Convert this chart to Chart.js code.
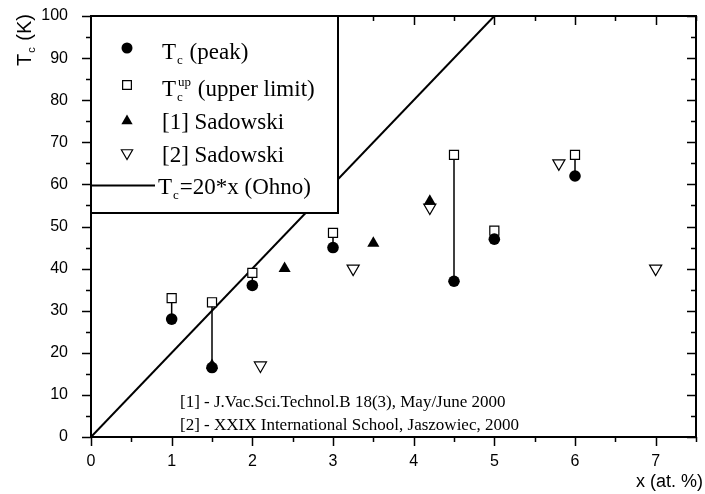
<!DOCTYPE html>
<html>
<head>
<meta charset="utf-8">
<script src="https://cdn.jsdelivr.net/npm/chart.js@4/dist/chart.umd.min.js"></script>
<style>
    html, body { margin: 0; padding: 0; background: #fff; }
</style>
</head>
<body>
<canvas id="tc-chart" width="705" height="494"></canvas>
<script>
// Tc (peak) and Tc upper limit, same x positions (at. %)
const peakX = [1, 1.5, 2, 3, 4.5, 5, 6];
const peakTc = [28, 16.5, 36, 45, 37, 47, 62];
const upTc = [33, 32, 39, 48.5, 67, 49, 67];

// [1] Sadowski
const sad1X = [1.5, 2.4, 3.5, 4.2];
const sad1Tc = [17, 40, 46, 56];

// [2] Sadowski
const sad2X = [2.1, 3.25, 4.2, 5.8, 7];
const sad2Tc = [17, 40, 54.5, 65, 40];

// Tc = 20*x (Ohno)
const ohnoX = [0, 5];
const ohnoTc = [0, 100];

// tick labels
const xLabels = [0, 1, 2, 3, 4, 5, 6, 7];
const yLabels = [0, 10, 20, 30, 40, 50, 60, 70, 80, 90, 100];

const SERIF = '"Liberation Serif", "Times New Roman", serif';
const SANS = '"Liberation Sans", Arial, sans-serif';

const toPoints = (xs, ys) => xs.map((x, i) => ({ x: x, y: ys[i] }));

// vertical bars joining peak and upper limit
const linkPoints = peakX.flatMap((x, i) => [
    { x: x, y: peakTc[i] },
    { x: x, y: upTc[i] },
    { x: x, y: null }
]);

// Tc with subscript (and optional superscript), then the rest of the text
function drawTc(ctx, x, y, size, family, sup, rest) {
    ctx.font = `${size}px ${family}`;
    ctx.fillText("T", x, y);
    let cx = x + ctx.measureText("T").width;
    const small = Math.round(size * 0.55);
    ctx.font = `${small}px ${family}`;
    ctx.fillText("c", cx + 1, y + size * 0.22);
    let adv = ctx.measureText("c").width + 1;
    if (sup) {
        ctx.fillText(sup, cx + 2, y - size * 0.42);
        adv = Math.max(adv, ctx.measureText(sup).width + 2);
    }
    ctx.font = `${size}px ${family}`;
    ctx.fillText(rest, cx + adv + 1, y);
}

const framePlugin = {
    id: "frame",
    afterDatasetsDraw(chart) {
        const { ctx, chartArea: a, scales: { x, y } } = chart;
        ctx.save();
        ctx.strokeStyle = "#000";
        ctx.lineWidth = 1.5;
        ctx.beginPath();
        x.ticks.forEach(t => {
            const px = Math.round(x.getPixelForValue(t.value)) + 0.5;
            const len = Number.isInteger(t.value) ? 9 : 5;
            ctx.moveTo(px, a.bottom);
            ctx.lineTo(px, a.bottom + len);
            ctx.moveTo(px, a.top);
            ctx.lineTo(px, a.top + len);
        });
        y.ticks.forEach(t => {
            const py = Math.round(y.getPixelForValue(t.value)) + 0.5;
            const len = t.value % 10 === 0 ? 9 : 5;
            ctx.moveTo(a.left - len, py);
            ctx.lineTo(a.left, py);
            ctx.moveTo(a.right - len, py);
            ctx.lineTo(a.right, py);
        });
        ctx.stroke();
        ctx.lineWidth = 2;
        ctx.strokeRect(a.left, a.top, a.right - a.left, a.bottom - a.top);

        // legend box
        const lx = a.left, ly = a.top, lw = 247, lh = 197;
        ctx.fillStyle = "#fff";
        ctx.fillRect(lx, ly, lw, lh);
        ctx.strokeRect(lx, ly, lw, lh);

        const mx = 127;
        ctx.fillStyle = "#000";
        ctx.lineWidth = 1.2;
        Chart.helpers.drawPoint(ctx, { pointStyle: "circle", radius: 5.5, borderWidth: 0 }, mx, 48);
        ctx.fillStyle = "#fff";
        Chart.helpers.drawPoint(ctx, { pointStyle: "rect", radius: 6.2, borderWidth: 1.2 }, mx, 85);
        ctx.fillStyle = "#000";
        Chart.helpers.drawPoint(ctx, { pointStyle: "triangle", radius: 6.5, borderWidth: 0 }, mx, 121);
        ctx.fillStyle = "#fff";
        Chart.helpers.drawPoint(ctx, { pointStyle: "triangle", rotation: 180, radius: 6.5, borderWidth: 1.2 }, mx, 153);
        ctx.lineWidth = 2;
        ctx.beginPath();
        ctx.moveTo(a.left, 185.5);
        ctx.lineTo(155, 185.5);
        ctx.stroke();

        ctx.fillStyle = "#000";
        ctx.textAlign = "left";
        ctx.textBaseline = "alphabetic";
        drawTc(ctx, 162, 59, 23, SERIF, null, " (peak)");
        drawTc(ctx, 162, 96, 23, SERIF, "up", " (upper limit)");
        ctx.font = `23px ${SERIF}`;
        ctx.fillText("[1] Sadowski", 162, 129);
        ctx.fillText("[2] Sadowski", 162, 162);
        drawTc(ctx, 158, 194, 23, SERIF, null, "=20*x (Ohno)");

        // references
        ctx.font = `17px ${SERIF}`;
        ctx.fillText("[1] - J.Vac.Sci.Technol.B 18(3), May/June 2000", 180, 407);
        ctx.fillText("[2] - XXIX International School, Jaszowiec, 2000", 180, 430);

        // axis titles
        ctx.font = `18px ${SANS}`;
        ctx.textAlign = "right";
        ctx.fillText("x (at. %)", 703, 487);
        ctx.save();
        ctx.translate(31, 66);
        ctx.rotate(-Math.PI / 2);
        ctx.textAlign = "left";
        drawTc(ctx, 0, 0, 20, SANS, null, " (K)");
        ctx.restore();
        ctx.restore();
    }
};

new Chart(document.getElementById("tc-chart"), {
    type: "scatter",
    data: {
        datasets: [
            {
                label: "Tc (peak)",
                data: toPoints(peakX, peakTc),
                pointStyle: "circle",
                pointRadius: 5.8,
                backgroundColor: "#000",
                borderWidth: 0,
                order: 0
            },
            {
                label: "Tc up (upper limit)",
                data: toPoints(peakX, upTc),
                pointStyle: "rect",
                pointRadius: 6.4,
                backgroundColor: "#fff",
                borderColor: "#000",
                borderWidth: 1.2,
                order: 0
            },
            {
                label: "[1] Sadowski",
                data: toPoints(sad1X, sad1Tc),
                pointStyle: "triangle",
                pointRadius: 7,
                backgroundColor: "#000",
                borderWidth: 0,
                order: 0
            },
            {
                label: "[2] Sadowski",
                data: toPoints(sad2X, sad2Tc),
                pointStyle: "triangle",
                rotation: 180,
                pointRadius: 7,
                backgroundColor: "#fff",
                borderColor: "#000",
                borderWidth: 1.2,
                order: 0
            },
            {
                label: "links",
                data: linkPoints,
                showLine: true,
                spanGaps: false,
                pointRadius: 0,
                borderColor: "#000",
                borderWidth: 1.5,
                order: 1
            },
            {
                label: "Tc=20*x (Ohno)",
                data: toPoints(ohnoX, ohnoTc),
                showLine: true,
                pointRadius: 0,
                borderColor: "#000",
                borderWidth: 2,
                order: 1
            }
        ]
    },
    options: {
        responsive: false,
        animation: false,
        events: [],
        layout: { padding: { top: 16, right: 9, left: 0, bottom: 0 } },
        plugins: {
            legend: { display: false },
            tooltip: { enabled: false }
        },
        scales: {
            x: {
                type: "linear",
                min: 0,
                max: 7.5,
                afterFit: s => {
                    s.height = 57;
                    s.paddingLeft = 0;
                    s.paddingRight = 0;
                },
                border: { display: false },
                grid: { display: false },
                ticks: {
                    stepSize: 0.5,
                    autoSkip: false,
                    maxRotation: 0,
                    padding: 7,
                    color: "#000",
                    font: { family: SANS, size: 16 },
                    callback: v => xLabels.includes(v) ? String(v) : ""
                }
            },
            y: {
                type: "linear",
                min: 0,
                max: 100,
                afterFit: s => {
                    s.width = 91;
                    s.paddingTop = 0;
                    s.paddingBottom = 0;
                },
                border: { display: false },
                grid: { display: false },
                ticks: {
                    stepSize: 5,
                    autoSkip: false,
                    padding: 15,
                    color: "#000",
                    font: { family: SANS, size: 16 },
                    callback: v => yLabels.includes(v) ? String(v) : ""
                }
            }
        }
    },
    plugins: [framePlugin]
});
</script>
</body>
</html>
